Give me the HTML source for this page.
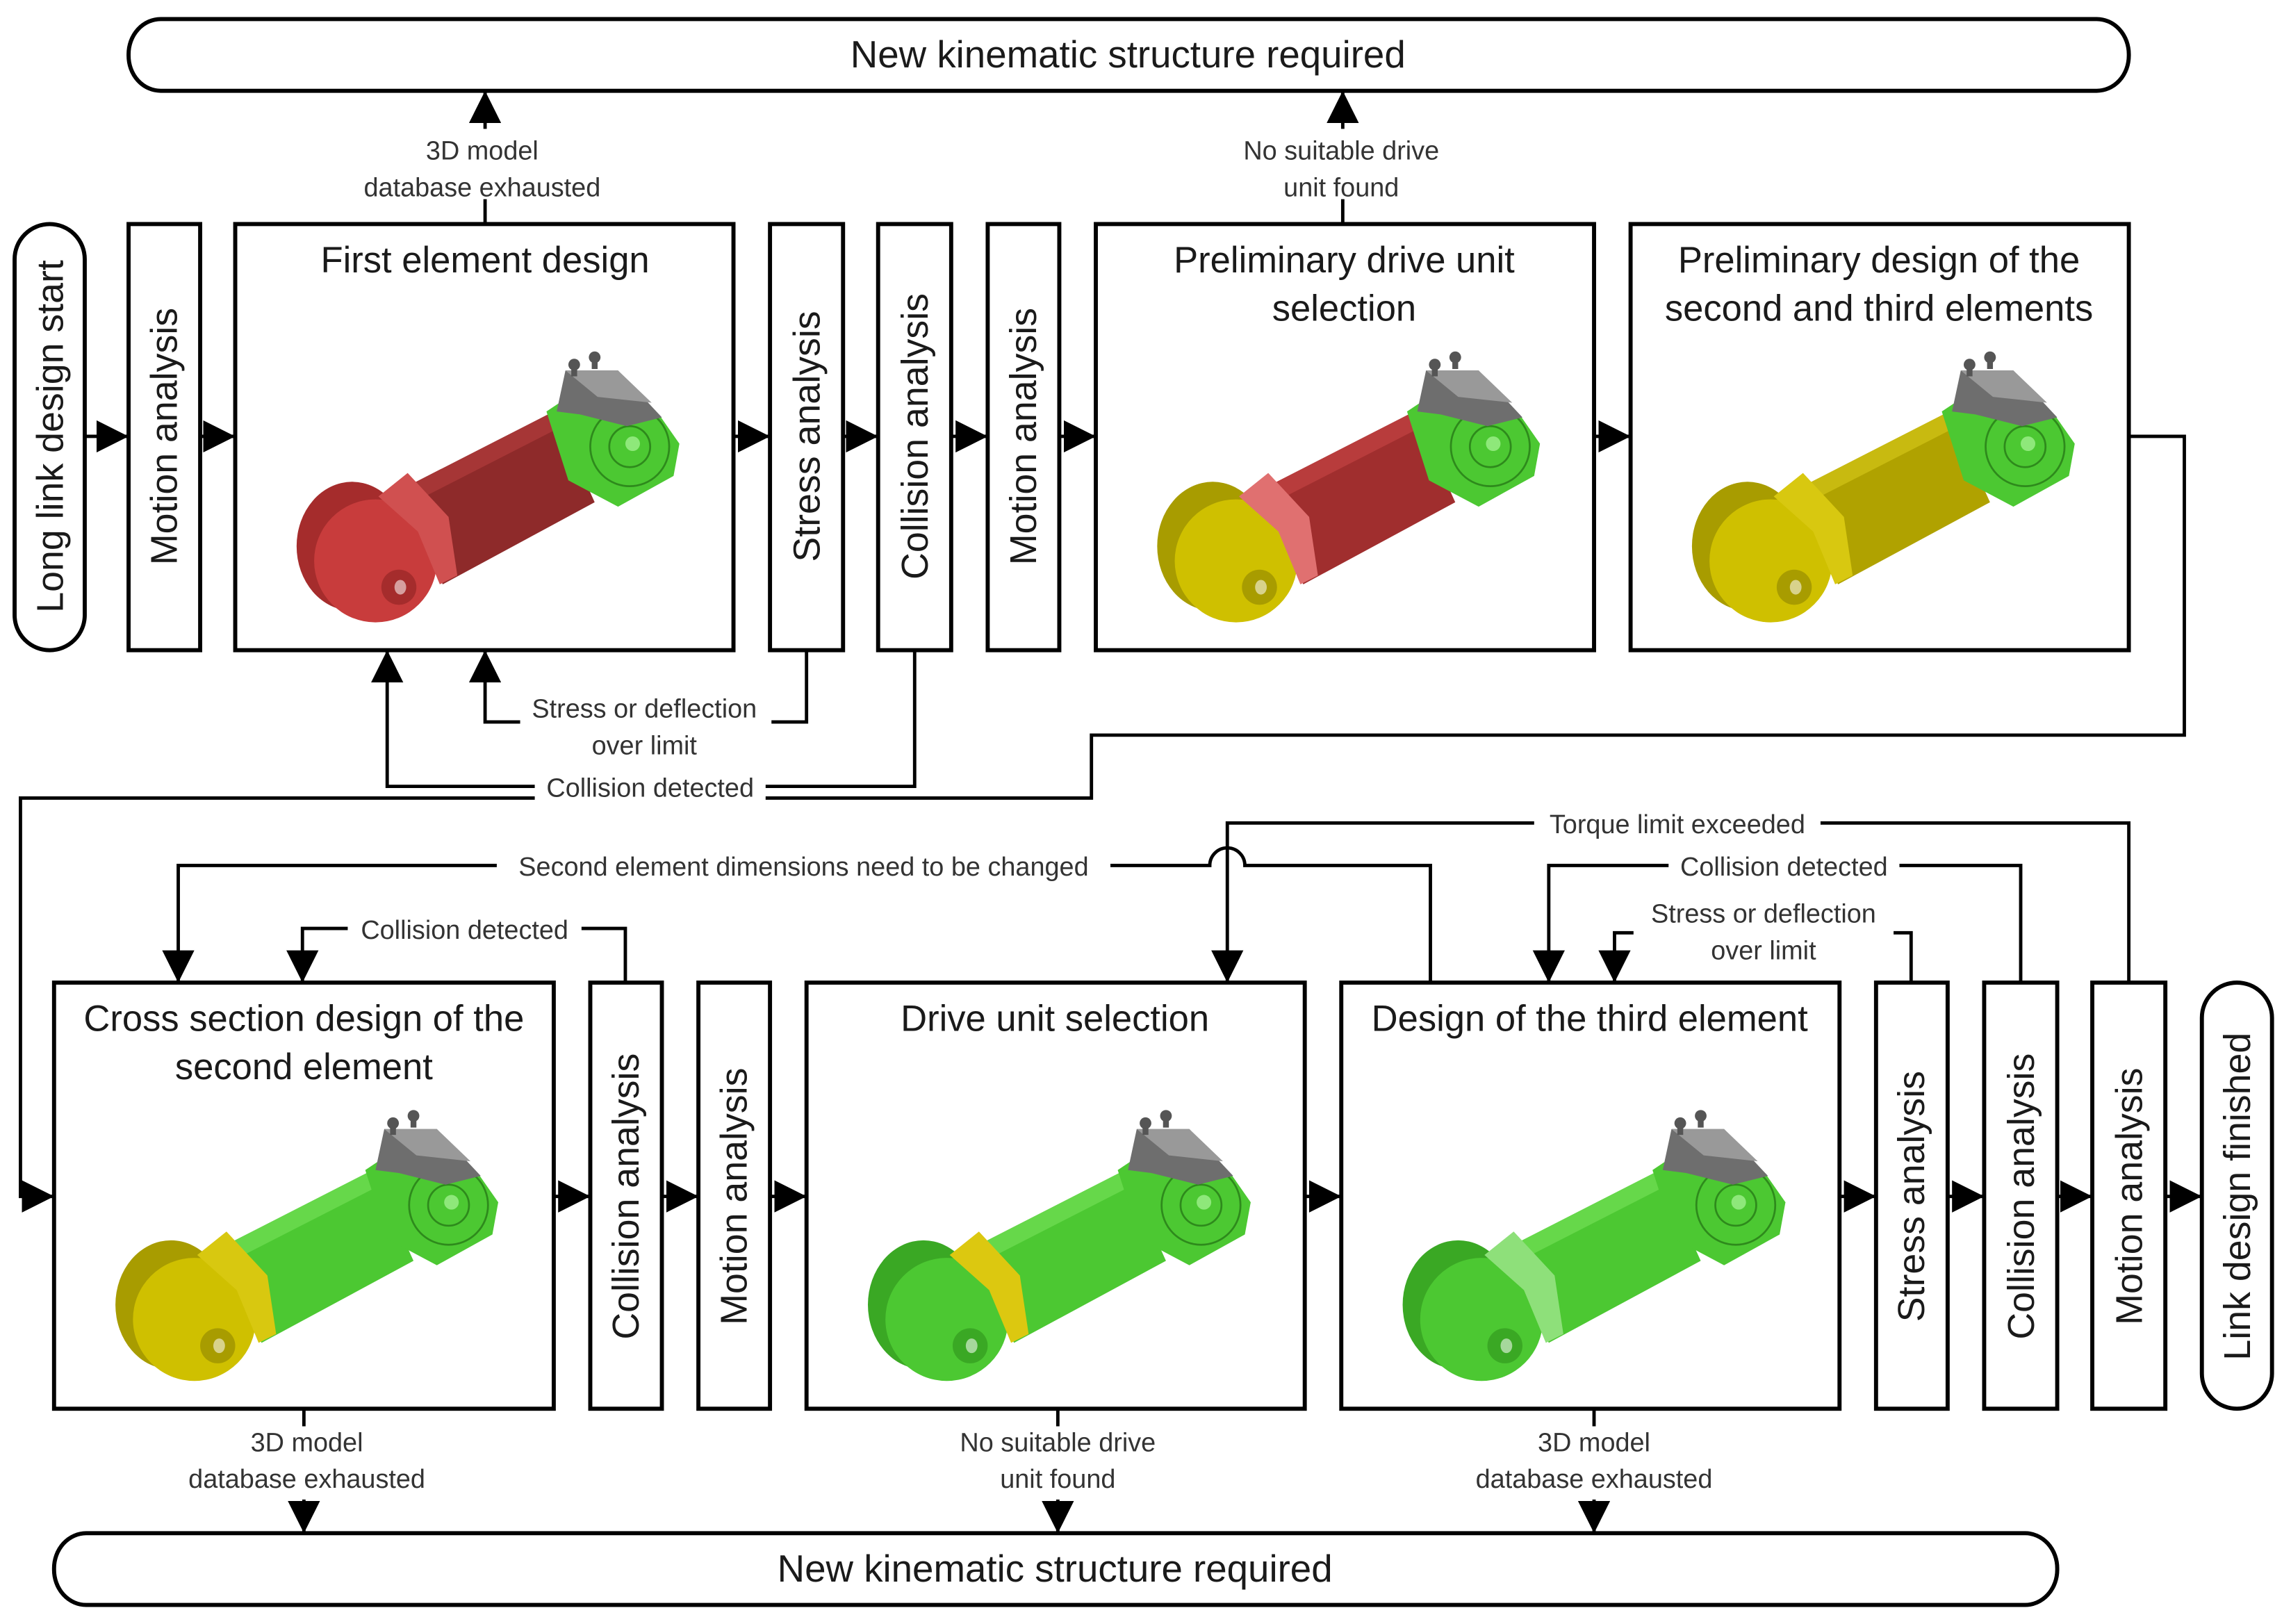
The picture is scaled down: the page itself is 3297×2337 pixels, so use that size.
<!DOCTYPE html>
<html><head><meta charset="utf-8">
<style>
html,body{margin:0;padding:0;background:#fff;}
svg{display:block;}
text{font-family:"Liberation Sans",sans-serif;fill:#1a1a1a;}
.t{font-size:25px;text-anchor:middle;}
.s{font-size:18px;text-anchor:middle;fill:#333;}
.v{font-size:25.5px;text-anchor:middle;}
.p{font-size:26px;text-anchor:middle;}
.b{fill:#fff;stroke:#000;stroke-width:2.8;}
.l{fill:none;stroke:#000;stroke-width:2.3;}
</style></head>
<body>
<svg width="3297" height="2337" viewBox="0 0 1568 1109" preserveAspectRatio="none" xmlns="http://www.w3.org/2000/svg">
<defs>
<g id="link">
  <!-- bar -->
  <polygon points="112,182 218,128 246,190 142,246" style="fill:var(--bar)"/>
  <polygon points="112,182 218,128 224,138 118,192" style="fill:var(--bartop)"/>
  <!-- block -->
  <polygon points="213,128 228,118 290,130 304,150 300,172 262,193 228,175" style="fill:var(--blk)"/>
  <circle cx="270" cy="152" r="27" style="fill:var(--blk)" stroke="#2e8a1c" stroke-width="1.3"/>
  <circle cx="270" cy="152" r="14" fill="none" stroke="#2e8a1c" stroke-width="1.3"/>
  <circle cx="272" cy="150" r="5" fill="#8ee87a"/>
  <!-- cap -->
  <polygon points="220,128 226,100 262,100 292,132 268,138 236,130" fill="#6e6e6e"/>
  <polygon points="226,100 262,100 285,122 248,118" fill="#999"/>
  <rect x="230" y="96" width="4" height="8" fill="#555"/><rect x="244" y="91" width="4" height="8" fill="#555"/>
  <circle cx="232" cy="96" r="4" fill="#555"/><circle cx="246" cy="91" r="4" fill="#555"/>
  <!-- cylinder -->
  <ellipse cx="80" cy="220" rx="38" ry="44" style="fill:var(--cyl2)"/>
  <ellipse cx="96" cy="230" rx="42" ry="42" style="fill:var(--cyl)"/>
  <ellipse cx="112" cy="248" rx="12" ry="12" style="fill:var(--cyl2)"/>
  <ellipse cx="113" cy="248" rx="4" ry="5" fill="#fff" opacity=".55"/>
  <!-- plate -->
  <polygon points="98,186 118,170 146,200 152,240 140,246 125,210" style="fill:var(--plate)"/>
</g>
<marker id="ar" markerWidth="22" markerHeight="22" refX="22" refY="11" orient="auto" markerUnits="userSpaceOnUse" viewBox="0 0 22 22"><path d="M0,0 L22,11 L0,22 z"/></marker>
</defs>

<!-- top terminator -->
<rect class="b" x="88" y="13" width="1369" height="49" rx="22" ry="24"/>
<text class="p" x="772" y="46">New kinematic structure required</text>
<!-- bottom terminator -->
<rect class="b" x="37" y="1047" width="1371" height="49" rx="22" ry="24"/>
<text class="p" x="722" y="1080">New kinematic structure required</text>

<!-- row 1 boxes -->
<rect class="b" x="10" y="153" width="48" height="291" rx="24" ry="24"/>
<text class="v" transform="translate(43,298) rotate(-90)">Long link design start</text>
<rect class="b" x="88" y="153" width="49" height="291"/>
<text class="v" transform="translate(121,298) rotate(-90)">Motion analysis</text>
<rect class="b" x="161" y="153" width="341" height="291"/>
<text class="t" x="332" y="186">First element design</text>
<rect class="b" x="527" y="153" width="50" height="291"/>
<text class="v" transform="translate(561,298) rotate(-90)">Stress analysis</text>
<rect class="b" x="601" y="153" width="50" height="291"/>
<text class="v" transform="translate(635,298) rotate(-90)">Collision analysis</text>
<rect class="b" x="676" y="153" width="49" height="291"/>
<text class="v" transform="translate(709,298) rotate(-90)">Motion analysis</text>
<rect class="b" x="750" y="153" width="341" height="291"/>
<text class="t" x="920" y="186">Preliminary drive unit</text>
<text class="t" x="920" y="219">selection</text>
<rect class="b" x="1116" y="153" width="341" height="291"/>
<text class="t" x="1286" y="186">Preliminary design of the</text>
<text class="t" x="1286" y="219">second and third elements</text>

<!-- row 2 boxes -->
<rect class="b" x="37" y="671" width="342" height="291"/>
<text class="t" x="208" y="704">Cross section design of the</text>
<text class="t" x="208" y="737">second element</text>
<rect class="b" x="404" y="671" width="49" height="291"/>
<text class="v" transform="translate(437,817) rotate(-90)">Collision analysis</text>
<rect class="b" x="478" y="671" width="49" height="291"/>
<text class="v" transform="translate(511,817) rotate(-90)">Motion analysis</text>
<rect class="b" x="552" y="671" width="341" height="291"/>
<text class="t" x="722" y="704">Drive unit selection</text>
<rect class="b" x="918" y="671" width="341" height="291"/>
<text class="t" x="1088" y="704">Design of the third element</text>
<rect class="b" x="1284" y="671" width="49" height="291"/>
<text class="v" transform="translate(1317,817) rotate(-90)">Stress analysis</text>
<rect class="b" x="1358" y="671" width="50" height="291"/>
<text class="v" transform="translate(1392,817) rotate(-90)">Collision analysis</text>
<rect class="b" x="1432" y="671" width="50" height="291"/>
<text class="v" transform="translate(1466,817) rotate(-90)">Motion analysis</text>
<rect class="b" x="1507" y="671" width="48" height="291" rx="24" ry="24"/>
<text class="v" transform="translate(1540,817) rotate(-90)">Link design finished</text>

<!-- images -->
<use href="#link" x="161" y="153" style="--cyl:#c83c3c;--cyl2:#a52c2c;--plate:#d05050;--bar:#8e2a2a;--bartop:#a63636;--blk:#4cc832"/>
<use href="#link" x="750" y="153" style="--cyl:#cfc000;--cyl2:#a89c00;--plate:#e07070;--bar:#a02e2e;--bartop:#b83c3c;--blk:#4cc832"/>
<use href="#link" x="1116" y="153" style="--cyl:#cfc000;--cyl2:#a89c00;--plate:#d8c810;--bar:#b0a200;--bartop:#c8ba10;--blk:#4cc832"/>
<use href="#link" x="37" y="671" style="--cyl:#cfc000;--cyl2:#a89c00;--plate:#d8c810;--bar:#4cc832;--bartop:#66d84a;--blk:#4cc832"/>
<use href="#link" x="552" y="671" style="--cyl:#4cc832;--cyl2:#3aa824;--plate:#dcc810;--bar:#4cc832;--bartop:#66d84a;--blk:#4cc832"/>
<use href="#link" x="918" y="671" style="--cyl:#4cc832;--cyl2:#3aa824;--plate:#8ee07a;--bar:#4cc832;--bartop:#66d84a;--blk:#4cc832"/>

<!-- connectors with arrows -->
<g class="l" marker-end="url(#ar)">
<line x1="58" y1="298" x2="88" y2="298"/>
<line x1="137" y1="298" x2="161" y2="298"/>
<line x1="502" y1="298" x2="527" y2="298"/>
<line x1="577" y1="298" x2="601" y2="298"/>
<line x1="651" y1="298" x2="676" y2="298"/>
<line x1="725" y1="298" x2="750" y2="298"/>
<line x1="1091" y1="298" x2="1116" y2="298"/>
<polyline points="1457,298 1495,298 1495,502 747,502 747,545 14,545 14,817 37,817"/>
<line x1="379" y1="817" x2="404" y2="817"/>
<line x1="453" y1="817" x2="478" y2="817"/>
<line x1="527" y1="817" x2="552" y2="817"/>
<line x1="893" y1="817" x2="918" y2="817"/>
<line x1="1259" y1="817" x2="1284" y2="817"/>
<line x1="1333" y1="817" x2="1358" y2="817"/>
<line x1="1408" y1="817" x2="1432" y2="817"/>
<line x1="1482" y1="817" x2="1507" y2="817"/>
<line x1="332" y1="153" x2="332" y2="62"/>
<line x1="919" y1="153" x2="919" y2="62"/>
<polyline points="552,444 552,493 332,493 332,444"/>
<polyline points="626,444 626,537 265,537 265,444"/>
<polyline points="428,671 428,634 207,634 207,671"/>
<path d="M979,671 L979,591 L852,591 A12,12 0 0 0 828,591 L122,591 L122,671"/>
<polyline points="1457,671 1457,562 840,562 840,671"/>
<polyline points="1383,671 1383,591 1060,591 1060,671"/>
<polyline points="1308,671 1308,637 1105,637 1105,671"/>
<line x1="208" y1="1024" x2="208" y2="1047"/>
<line x1="724" y1="1024" x2="724" y2="1047"/>
<line x1="1091" y1="1024" x2="1091" y2="1047"/>
</g>
<g class="l">
<line x1="208" y1="962" x2="208" y2="974"/>
<line x1="724" y1="962" x2="724" y2="974"/>
<line x1="1091" y1="962" x2="1091" y2="974"/>
</g>

<!-- label backgrounds -->
<g fill="#fff">
<rect x="262" y="88" width="140" height="48"/>
<rect x="838" y="88" width="164" height="48"/>
<rect x="356" y="470" width="172" height="46"/>
<rect x="366" y="526" width="158" height="22"/>
<rect x="238" y="623" width="160" height="22"/>
<rect x="340" y="580" width="420" height="22"/>
<rect x="1050" y="551" width="196" height="22"/>
<rect x="1142" y="580" width="158" height="22"/>
<rect x="1118" y="610" width="178" height="46"/>
</g>
<text class="s" x="330" y="109">3D model</text>
<text class="s" x="330" y="134">database exhausted</text>
<text class="s" x="918" y="109">No suitable drive</text>
<text class="s" x="918" y="134">unit found</text>
<text class="s" x="441" y="490">Stress or deflection</text>
<text class="s" x="441" y="515">over limit</text>
<text class="s" x="445" y="544">Collision detected</text>
<text class="s" x="318" y="641">Collision detected</text>
<text class="s" x="550" y="598">Second element dimensions need to be changed</text>
<text class="s" x="1148" y="569">Torque limit exceeded</text>
<text class="s" x="1221" y="598">Collision detected</text>
<text class="s" x="1207" y="630">Stress or deflection</text>
<text class="s" x="1207" y="655">over limit</text>
<text class="s" x="210" y="991">3D model</text>
<text class="s" x="210" y="1016">database exhausted</text>
<text class="s" x="724" y="991">No suitable drive</text>
<text class="s" x="724" y="1016">unit found</text>
<text class="s" x="1091" y="991">3D model</text>
<text class="s" x="1091" y="1016">database exhausted</text>
</svg>
</body></html>
